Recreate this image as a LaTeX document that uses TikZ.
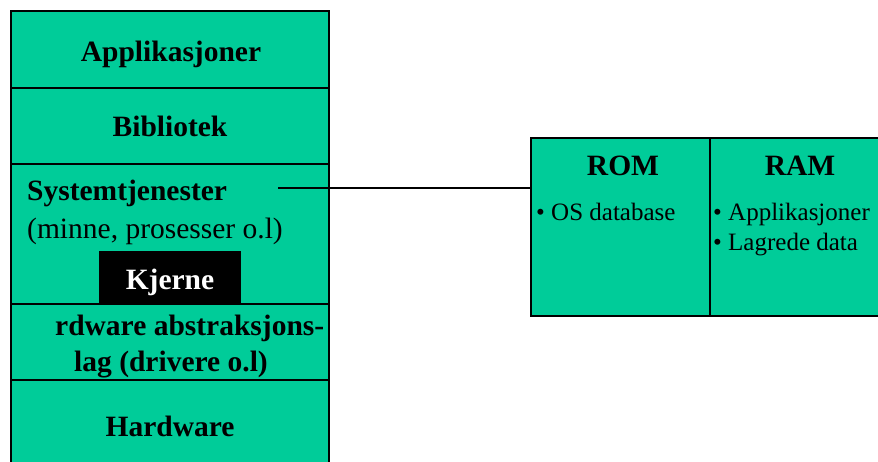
\documentclass[tikz,border=0pt]{standalone}
\usepackage{fontspec}
\setmainfont{Liberation Serif}
\definecolor{layergreen}{RGB}{0,204,153}
\begin{document}
\begin{tikzpicture}[x=1pt,y=-1pt,
  layer/.style={draw=black,line width=1.5pt,fill=layergreen,rectangle,inner sep=0pt},
  big/.style={font=\fontsize{29.5}{34}\selectfont\bfseries,inner sep=0pt},
  bigreg/.style={font=\fontsize{29.5}{34}\selectfont,inner sep=0pt},
  small/.style={font=\fontsize{25}{30}\selectfont,inner sep=0pt},
  conn/.style={draw=black,line width=1.3pt}]
\useasboundingbox (0,0) rectangle (878,461);
\clip (0,0) rectangle (878,461);
% left stack
\node[layer,minimum width=318pt,minimum height=77pt] (app) at (170,49.5) {};
\node[layer,minimum width=318pt,minimum height=76pt] (bib) at (170,126) {};
\node[layer,minimum width=318pt,minimum height=140pt] (sys) at (170,234) {};
\node[layer,minimum width=318pt,minimum height=76pt] (hal) at (170,342) {};
\node[layer,minimum width=318pt,minimum height=94pt] (hw) at (170,427) {};
\node[fill=black,minimum width=142pt,minimum height=53pt,inner sep=0pt] (kj) at (170,277.5) {};
% texts
\node[big,anchor=base] (tapp) at (171,61) {Applikasjoner};
\node[big,anchor=base] (tbib) at (170,136.7) {Bibliotek};
\node[big,anchor=base west] (tsys) at (27,200.7) {Systemtjenester};
\node[bigreg,anchor=base west] (tsys2) at (27,238.5) {(minne, prosesser o.l)};
\node[big,anchor=base,text=white] (tkj) at (170,289) {Kjerne};
\node[big,anchor=base west] (thal1) at (55,335) {rdware abstraksjons-};
\node[big,anchor=base] (thal2) at (171,371) {lag (drivere o.l)};
\node[big,anchor=base] (thw) at (170,436) {Hardware};
% right box
\node[layer,minimum width=179pt,minimum height=178pt] (rom) at (620.5,227) {};
\node[layer,minimum width=180pt,minimum height=178pt] (ram) at (800,227) {};
\node[big,anchor=base] (trom) at (623,175) {ROM};
\node[big,anchor=base] (tram) at (800,175) {RAM};
\node[small,anchor=base west] (tos) at (536,220.7) {\textbullet\ OS database};
\node[small,anchor=base west] (tapps) at (713,220.7) {\textbullet\ Applikasjoner};
\node[small,anchor=base west] (tlag) at (713,250.7) {\textbullet\ Lagrede data};
% connector
\coordinate (s) at (278,188);
\draw[conn] (s) -- (s -| rom.west);
\end{tikzpicture}
\end{document}
